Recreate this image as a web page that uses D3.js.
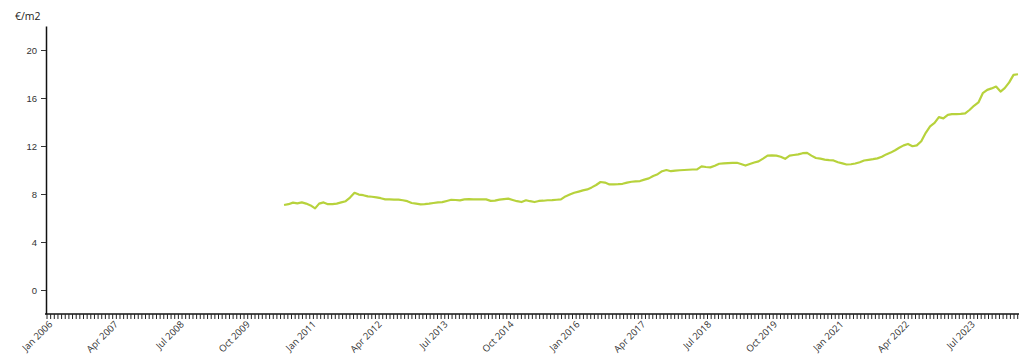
<!DOCTYPE html>
<html>
<head>
<meta charset="utf-8">
<script src="https://cdn.jsdelivr.net/npm/d3@7"></script>
<style>
  body { margin: 0; background: #fff; }
  svg { display: block; font-family: "Open Sans", sans-serif; }
  .tick-label { font-size: 9.5px; fill: #333; }
</style>
</head>
<body>
<script>
// Monthly rent, €/m2, from Jul 2010 to Jun 2024
const firstMonth = new Date(2010, 6, 1);
const rent = [
  7.08, 7.15, 7.28, 7.22, 7.30, 7.20,
  7.05, 6.80, 7.20, 7.30, 7.15, 7.15, 7.20, 7.30, 7.40, 7.70, 8.10, 7.95,
  7.90, 7.80, 7.77, 7.72, 7.65, 7.55, 7.55, 7.53, 7.53, 7.48, 7.40, 7.25,
  7.20, 7.14, 7.16, 7.20, 7.25, 7.30, 7.32, 7.42, 7.52, 7.50, 7.47, 7.55,
  7.57, 7.55, 7.55, 7.55, 7.55, 7.43, 7.45, 7.53, 7.58, 7.61, 7.50, 7.40,
  7.33, 7.48, 7.40, 7.33, 7.42, 7.44, 7.48, 7.49, 7.52, 7.55, 7.80, 7.95,
  8.10, 8.20, 8.30, 8.38, 8.55, 8.75, 9.00, 8.95, 8.80, 8.80, 8.82, 8.85,
  8.95, 9.02, 9.05, 9.08, 9.20, 9.30, 9.50, 9.65, 9.90, 10.00, 9.90, 9.95,
  9.98, 10.00, 10.02, 10.04, 10.05, 10.30, 10.25, 10.22, 10.35, 10.52, 10.55, 10.58,
  10.60, 10.60, 10.50, 10.37, 10.50, 10.62, 10.72, 10.95, 11.20, 11.22, 11.20, 11.10,
  10.93, 11.20, 11.25, 11.30, 11.40, 11.43, 11.20, 11.00, 10.95, 10.87, 10.82, 10.80,
  10.65, 10.55, 10.46, 10.48, 10.54, 10.65, 10.79, 10.85, 10.90, 10.97, 11.10, 11.30,
  11.45, 11.65, 11.85, 12.05, 12.17, 11.98, 12.05, 12.40, 13.10, 13.63, 13.92, 14.41,
  14.30, 14.60, 14.65, 14.65, 14.68, 14.72, 15.00, 15.35, 15.63, 16.40, 16.68, 16.80,
  16.95, 16.54, 16.82, 17.30, 17.93, 17.98
];

// Axis labels
const xTickDates = [
  "2006-01", "2007-04", "2008-07", "2009-10", "2011-01", "2012-04", "2013-07", "2014-10",
  "2016-01", "2017-04", "2018-07", "2019-10", "2021-01", "2022-04", "2023-07"
];
const yTicks = [0, 4, 8, 12, 16, 20];
const unitLabel = "€/m2";

const width = 1024, height = 357;
const parseMonth = d3.timeParse("%Y-%m");
const fmt = d3.timeFormat("%b %Y");

const data = rent.map((v, i) => ({ date: d3.timeMonth.offset(firstMonth, i), value: v }));

const x = d3.scaleTime()
  .domain([parseMonth("2006-01"), data[data.length - 1].date])
  .range([47, 1018]);

const y = d3.scaleLinear().domain([-2, 22]).range([314, 26]);

const svg = d3.select("body").append("svg")
  .attr("width", width)
  .attr("height", height);

// Y axis
const yAxis = svg.append("g")
  .attr("transform", "translate(46,0)")
  .call(d3.axisLeft(y).tickValues(yTicks).tickSizeInner(5).tickSizeOuter(0).tickPadding(4));
yAxis.select(".domain").attr("stroke", "#111").attr("stroke-width", 1.5);
yAxis.selectAll(".tick line").attr("stroke", "#333");
yAxis.selectAll(".tick text").attr("class", "tick-label").attr("font-family", null).attr("font-size", null);

svg.append("text")
  .attr("x", 15)
  .attr("y", 20)
  .attr("font-size", 10.5)
  .attr("fill", "#222")
  .text(unitLabel);

// X axis: labelled every 15 months, small ticks in between
const majors = xTickDates.map(parseMonth);
const step = (x(majors[1]) - x(majors[0])) / 18;
const minorPos = d3.range(x(majors[0]), x.range()[1] + 0.5, step);

const xAxis = svg.append("g").attr("transform", "translate(0,314)");
xAxis.append("line")
  .attr("x1", 45).attr("x2", x.range()[1] + 1)
  .attr("stroke", "#111").attr("stroke-width", 1.5);
xAxis.selectAll("line.minor")
  .data(minorPos)
  .enter().append("line")
  .attr("class", "minor")
  .attr("x1", d => d).attr("x2", d => d)
  .attr("y1", 0).attr("y2", 5)
  .attr("stroke", "#222").attr("stroke-width", 1);
xAxis.selectAll("text")
  .data(majors)
  .enter().append("text")
  .attr("class", "tick-label")
  .attr("text-anchor", "end")
  .attr("transform", d => `translate(${x(d) + 6},${11}) rotate(-45)`)
  .text(d => fmt(d));

// Line
svg.append("path")
  .datum(data)
  .attr("fill", "none")
  .attr("stroke", "#b7d23c")
  .attr("stroke-width", 2.2)
  .attr("stroke-linejoin", "round")
  .attr("d", d3.line().x(d => x(d.date)).y(d => y(d.value)));
</script>
</body>
</html>
